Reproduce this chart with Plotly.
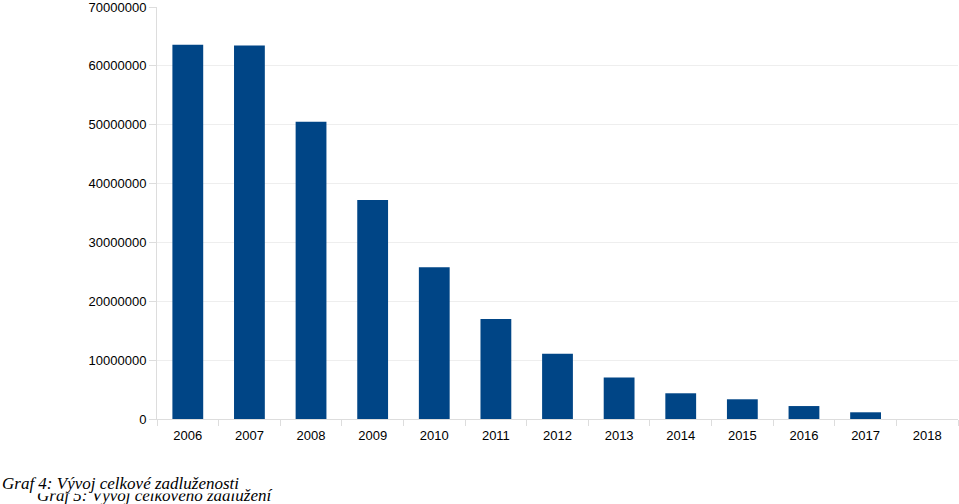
import plotly.graph_objects as go

years = ["2006", "2007", "2008", "2009", "2010", "2011", "2012", "2013", "2014", "2015", "2016", "2017", "2018"]
debt = [63600000, 63450000, 50500000, 37200000, 25800000, 17000000, 11070000, 7030000, 4370000, 3350000, 2200000, 1140000, 0]
y_ticks = [0, 10000000, 20000000, 30000000, 40000000, 50000000, 60000000, 70000000]
caption_1 = "Graf 4: Vývoj celkové zadluženosti"
caption_2 = "Graf 5: Vývoj celkového zadlužení"

L, R, T, B = 157, 1, 7, 85
W, H = 959, 504
PW, PH = W - L - R, H - T - B

fig = go.Figure()
fig.add_trace(go.Bar(
    x=years, y=debt,
    marker=dict(color="#004586", line=dict(width=0)),
    width=0.5,
))

fig.update_layout(
    width=W, height=H,
    margin=dict(l=L, r=R, t=T, b=B, autoexpand=False),
    paper_bgcolor="white", plot_bgcolor="white",
    showlegend=False,
    font=dict(family="Liberation Sans, Arial, sans-serif", size=13, color="black"),
)
fig.update_xaxes(
    type="category", automargin=False,
    showline=True, linecolor="#dddddd", linewidth=1,
    ticks="outside", tickson="boundaries", ticklen=6, tickcolor="#dddddd",
    ticklabelstandoff=4,
    showgrid=False,
    tickfont=dict(size=13),
)
fig.update_yaxes(
    range=[0, 70000000], automargin=False,
    tickvals=y_ticks, ticktext=[str(v) for v in y_ticks],
    ticklabeloverflow="allow",
    showline=True, linecolor="#dddddd", linewidth=1,
    ticks="outside", ticklen=7, tickcolor="#dddddd",
    showgrid=True, gridcolor="#eeeeee", gridwidth=1,
    zeroline=False,
    tickfont=dict(size=13),
)

serif = "Liberation Serif, Times New Roman, serif"
fig.add_annotation(
    text="<i>" + caption_2 + "</i>", xref="paper", yref="paper",
    x=(36 - L) / PW, y=(H - 485 - B) / PH,
    xanchor="left", yanchor="top", showarrow=False, borderpad=0,
    font=dict(family=serif, size=17, color="black"),
)
fig.add_annotation(
    text="<i>" + caption_1 + "</i>", xref="paper", yref="paper",
    x=(1 - L) / PW, y=(H - 473 - B) / PH,
    xanchor="left", yanchor="top", showarrow=False,
    bgcolor="white", borderpad=0,
    font=dict(family=serif, size=17, color="black"),
)

fig.write_html(
    "out.html",
    config={"displayModeBar": False},
    post_script="document.body.style.margin='0';document.body.style.overflow='hidden';",
)
